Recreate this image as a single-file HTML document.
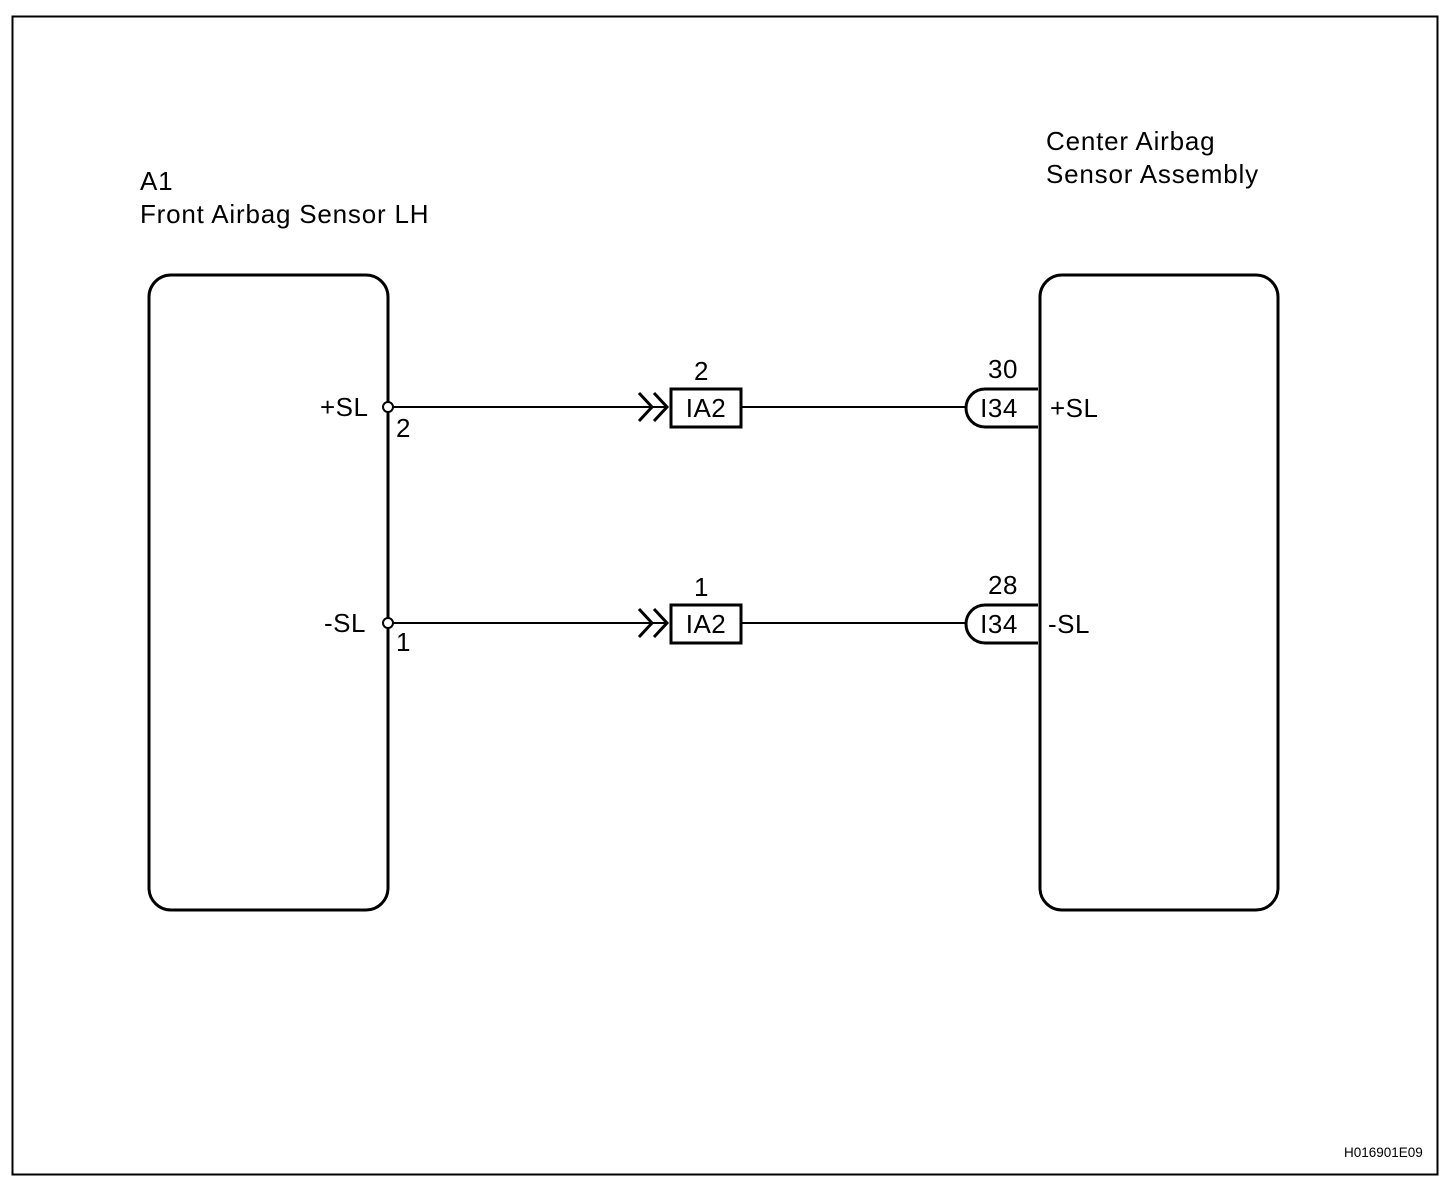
<!DOCTYPE html>
<html><head><style>body{margin:0;background:#fff}svg{display:block}text{font-family:"Liberation Sans",Arial,sans-serif;fill:#000}</style></head>
<body>
<svg width="1456" height="1192" viewBox="0 0 1456 1192">
<rect x="12.5" y="16.5" width="1425" height="1158" fill="none" stroke="#000" stroke-width="2"/>
<g font-size="26" letter-spacing="0.8">
<text x="140" y="190">A1</text>
<text x="140" y="223">Front Airbag Sensor LH</text>
<text x="1046" y="150">Center Airbag</text>
<text x="1046" y="183">Sensor Assembly</text>
</g>
<rect x="149" y="275" width="239" height="635" rx="22" fill="none" stroke="#000" stroke-width="3"/>
<rect x="1040" y="275" width="238" height="635" rx="22" fill="none" stroke="#000" stroke-width="3"/>
<g stroke="#000" stroke-width="2" fill="none">
<line x1="394" y1="407" x2="668" y2="407"/><line x1="741" y1="407" x2="966" y2="407"/>
<line x1="394" y1="623" x2="668" y2="623"/><line x1="741" y1="623" x2="966" y2="623"/>
<polyline points="639,393 652,407 639,421" stroke-width="3"/><polyline points="654,393 667,407 654,421" stroke-width="3"/>
<polyline points="639,609 652,623 639,637" stroke-width="3"/><polyline points="654,609 667,623 654,637" stroke-width="3"/>
<rect x="671" y="389" width="70" height="38" stroke-width="3"/>
<rect x="671" y="605" width="70" height="38" stroke-width="3"/>
<path d="M1038,389 H985 A19,19 0 0 0 985,427 H1038" stroke-width="3"/>
<path d="M1038,605 H985 A19,19 0 0 0 985,643 H1038" stroke-width="3"/>
</g>
<circle cx="388" cy="407" r="5" fill="#fff" stroke="#000" stroke-width="2"/>
<circle cx="388" cy="623" r="5" fill="#fff" stroke="#000" stroke-width="2"/>
<g font-size="26" letter-spacing="0.5">
<text x="320" y="416">+SL</text><text x="396" y="437">2</text>
<text x="324" y="632">-SL</text><text x="396" y="651">1</text>
<text x="694" y="380">2</text><text x="694" y="596">1</text>
<text x="706" y="417" text-anchor="middle">IA2</text>
<text x="706" y="633" text-anchor="middle">IA2</text>
<text x="1003" y="378" text-anchor="middle">30</text>
<text x="1003" y="594" text-anchor="middle">28</text>
<text x="999" y="417" text-anchor="middle">I34</text>
<text x="999" y="633" text-anchor="middle">I34</text>
<text x="1050" y="417">+SL</text>
<text x="1048" y="633">-SL</text>
</g>
<text x="1344" y="1157" font-size="13.5">H016901E09</text>
</svg>
</body></html>
